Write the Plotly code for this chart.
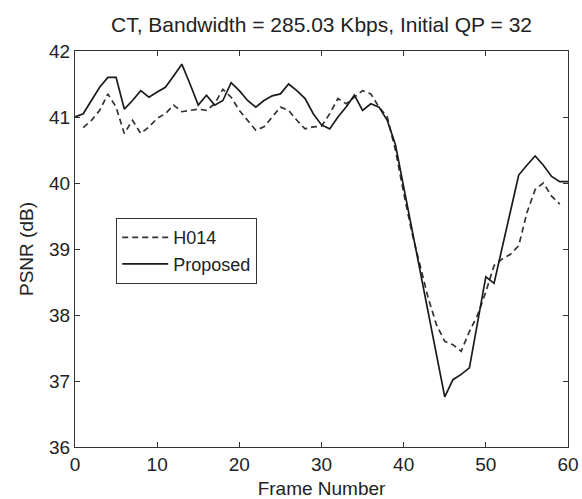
import plotly.graph_objects as go

frames_proposed = list(range(0, 61))
psnr_proposed = [
    41.00, 41.05, 41.25, 41.45, 41.60, 41.60, 41.12, 41.25, 41.40, 41.30,
    41.38, 41.45, 41.62, 41.80, 41.50, 41.18, 41.33, 41.18, 41.25, 41.52,
    41.40, 41.25, 41.15, 41.25, 41.32, 41.35, 41.50, 41.40, 41.28, 41.05,
    40.88, 40.82, 41.00, 41.15, 41.33, 41.10, 41.20, 41.15, 40.95, 40.58,
    39.94, 39.30, 38.67, 38.03, 37.40, 36.76, 37.02, 37.10, 37.20, 37.92,
    38.58, 38.48, 39.04, 39.60, 40.12, 40.27, 40.41, 40.27, 40.10, 40.02,
    40.02,
]

frames_h014 = list(range(1, 60))
psnr_h014 = [
    40.84, 40.95, 41.10, 41.35, 41.15, 40.75, 40.95, 40.75, 40.85,
    40.98, 41.05, 41.18, 41.08, 41.10, 41.12, 41.10, 41.20, 41.42, 41.30,
    41.10, 40.95, 40.80, 40.85, 41.00, 41.15, 41.10, 40.95, 40.82, 40.85,
    40.86, 41.05, 41.28, 41.20, 41.30, 41.40, 41.35, 41.15, 41.00, 40.50,
    39.85, 39.25, 38.75, 38.25, 37.85, 37.60, 37.55, 37.45, 37.75, 38.00,
    38.35, 38.75, 38.85, 38.92, 39.05, 39.55, 39.90, 40.00, 39.80, 39.68,
]

x_ticks = [0, 10, 20, 30, 40, 50, 60]
y_ticks = [36, 37, 38, 39, 40, 41, 42]

FONT = "Liberation Sans, Arial, sans-serif"
INK = "#222222"

fig = go.Figure()
fig.add_trace(go.Scatter(
    x=frames_h014, y=psnr_h014, mode="lines", name="H014",
    line=dict(color="#333333", width=1.7, dash="6px,4px"),
))
fig.add_trace(go.Scatter(
    x=frames_proposed, y=psnr_proposed, mode="lines", name="Proposed",
    line=dict(color="#1a1a1a", width=1.7),
))

axis_common = dict(
    showline=True, linecolor="#333333", linewidth=1.2, mirror="ticks",
    ticks="inside", ticklen=5, tickcolor="#333333", tickwidth=1,
    showgrid=False, zeroline=False, automargin=False,
    tickfont=dict(family=FONT, size=19, color=INK),
)

fig.update_layout(
    width=582, height=499,
    margin=dict(l=75, r=14, t=51, b=52),
    paper_bgcolor="white", plot_bgcolor="white",
    title=dict(
        text="CT, Bandwidth = 285.03 Kbps, Initial QP = 32",
        x=(75 + 568) / 2 / 582, xanchor="center",
        y=1 - 25 / 499, yanchor="middle",
        font=dict(family=FONT, size=21, color=INK),
    ),
    xaxis=dict(
        range=[0, 60], tickvals=x_ticks,
        title=dict(text="Frame Number", font=dict(family=FONT, size=19, color=INK), standoff=10),
        **axis_common,
    ),
    yaxis=dict(
        range=[36, 42], tickvals=y_ticks, ticklabelstandoff=0,
        title=dict(text="PSNR (dB)", font=dict(family=FONT, size=19, color=INK), standoff=10),
        **axis_common,
    ),
    legend=dict(
        x=(116 - 75) / 493, y=(447 - 218) / 396, xanchor="left", yanchor="top",
        bordercolor="#333333", borderwidth=1.2, bgcolor="white",
        font=dict(family=FONT, size=18, color=INK),
        itemwidth=46, tracegroupgap=0,
    ),
    showlegend=True,
)

fig.write_html("out.html")
